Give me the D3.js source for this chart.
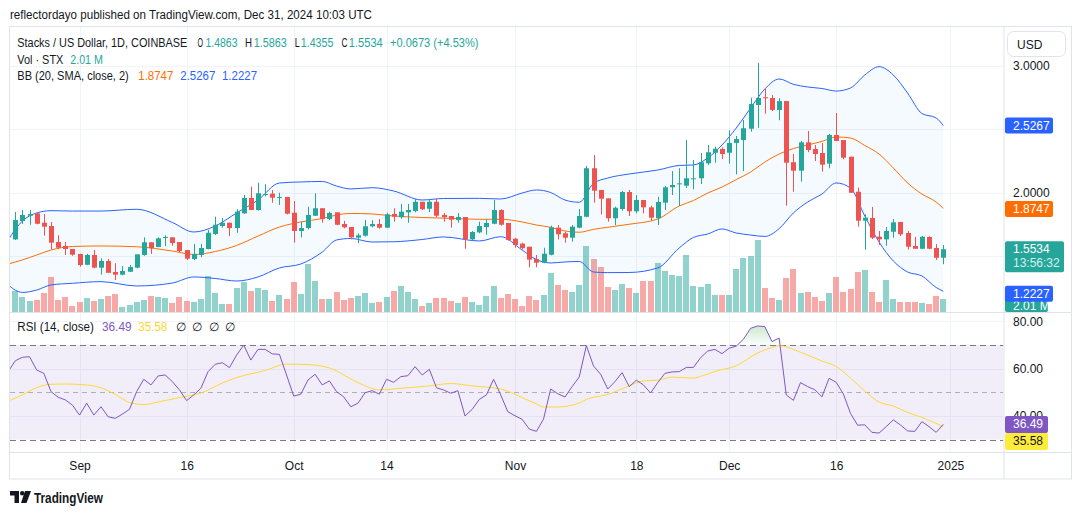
<!DOCTYPE html>
<html><head><meta charset="utf-8">
<script src="https://cdn.jsdelivr.net/npm/d3@7"></script>
<style>
html,body{margin:0;padding:0;background:#fff;}
svg{display:block;font-family:"Liberation Sans",Arial,sans-serif;}
</style></head><body>
<svg id="c" width="1080" height="515"></svg>
<script>
// ---------------- DATA ----------------
const startDate = "2024-08-23"; // first daily candle
const opens = [1.631,1.776,1.817,1.836,1.762,1.736,1.610,1.579,1.555,1.516,
 1.431,1.508,1.408,1.461,1.374,1.353,1.376,1.408,1.508,1.608,
 1.571,1.642,1.647,1.610,1.547,1.476,1.508,1.555,1.673,1.736,
 1.762,1.720,1.836,1.957,1.862,1.980,1.991,1.959,1.965,1.841,
 1.697,1.720,1.817,1.876,1.791,1.844,1.752,1.728,1.644,1.660,
 1.734,1.752,1.723,1.831,1.805,1.844,1.854,1.927,1.872,1.927,
 1.823,1.815,1.783,1.807,1.631,1.686,1.728,1.754,1.862,1.760,
 1.636,1.597,1.573,1.476,1.447,1.510,1.723,1.679,1.644,1.723,
 1.809,2.191,2.020,1.954,1.797,1.870,2.004,1.852,1.941,1.883,
 1.797,1.920,2.041,2.064,2.054,2.106,2.112,2.230,2.313,2.343,
 2.313,2.390,2.413,2.502,2.689,2.750,2.744,2.650,2.720,2.238,
 2.172,2.395,2.343,2.311,2.227,2.453,2.413,2.282,2.006,1.778,
 1.799,1.652,1.631,1.691,1.768,1.681,1.579,1.557,1.650,1.563,
 1.4863];
const highs = [1.846,1.862,1.862,1.840,1.831,1.768,1.663,1.610,1.556,1.517,
 1.517,1.547,1.482,1.476,1.443,1.421,1.429,1.513,1.647,1.608,
 1.647,1.663,1.647,1.610,1.547,1.594,1.594,1.705,1.809,1.799,
 1.762,1.868,1.980,2.046,2.077,2.065,2.020,1.998,1.965,1.933,
 1.770,1.888,1.994,1.876,1.849,1.844,1.776,1.728,1.679,1.783,
 1.781,1.791,1.841,1.876,1.910,1.910,1.949,1.927,1.946,1.949,
 1.839,1.815,1.838,1.807,1.697,1.770,1.789,1.941,1.868,1.760,
 1.644,1.605,1.573,1.508,1.565,1.739,1.744,1.691,1.744,1.870,
 2.209,2.295,2.020,1.954,1.888,2.012,2.020,1.980,1.941,1.896,
 1.967,2.051,2.169,2.191,2.413,2.256,2.311,2.374,2.361,2.356,
 2.490,2.445,2.571,2.746,3.020,2.820,2.768,2.742,2.720,2.303,
 2.406,2.484,2.374,2.390,2.461,2.626,2.413,2.282,2.038,1.828,
 1.886,1.697,1.728,1.791,1.768,1.697,1.650,1.657,1.655,1.594,
 1.5863];
const lows = [1.626,1.752,1.746,1.750,1.660,1.553,1.553,1.508,1.502,1.416,
 1.429,1.403,1.353,1.364,1.311,1.348,1.374,1.403,1.502,1.516,
 1.569,1.579,1.581,1.531,1.469,1.469,1.490,1.553,1.665,1.723,
 1.657,1.683,1.831,1.862,1.857,1.970,1.920,1.902,1.828,1.605,
 1.647,1.710,1.815,1.762,1.783,1.742,1.718,1.631,1.602,1.652,
 1.726,1.715,1.720,1.770,1.794,1.762,1.844,1.862,1.846,1.805,
 1.770,1.723,1.762,1.557,1.620,1.679,1.668,1.750,1.739,1.620,
 1.565,1.553,1.411,1.411,1.443,1.505,1.631,1.605,1.613,1.718,
 1.805,1.920,1.828,1.770,1.744,1.857,1.815,1.836,1.836,1.778,
 1.744,1.862,1.980,1.894,2.035,2.025,2.067,2.217,2.235,2.264,
 2.227,2.143,2.169,2.479,2.510,2.620,2.642,2.569,1.896,2.006,
 2.085,2.317,2.248,2.164,2.191,2.406,2.261,1.998,1.731,1.550,
 1.634,1.587,1.581,1.644,1.657,1.550,1.557,1.555,1.553,1.469,
 1.4355];
const closes = [1.783,1.823,1.830,1.754,1.731,1.605,1.565,1.555,1.510,1.429,
 1.508,1.408,1.461,1.368,1.353,1.382,1.413,1.513,1.608,1.561,
 1.639,1.650,1.602,1.539,1.479,1.516,1.563,1.683,1.746,1.762,
 1.720,1.849,1.957,1.862,1.994,1.988,1.959,1.965,1.833,1.697,
 1.720,1.823,1.876,1.791,1.839,1.746,1.726,1.647,1.663,1.734,
 1.752,1.723,1.828,1.809,1.849,1.862,1.927,1.868,1.927,1.817,
 1.805,1.786,1.807,1.631,1.689,1.736,1.760,1.862,1.746,1.626,
 1.587,1.561,1.471,1.447,1.518,1.726,1.671,1.644,1.731,1.815,
 2.191,2.014,1.951,1.797,1.880,2.004,1.852,1.941,1.883,1.802,
 1.925,2.041,2.059,2.072,2.112,2.112,2.238,2.317,2.345,2.303,
 2.390,2.421,2.506,2.697,2.744,2.742,2.650,2.720,2.235,2.172,
 2.395,2.335,2.303,2.219,2.453,2.406,2.274,1.998,1.778,1.802,
 1.644,1.631,1.697,1.765,1.671,1.573,1.557,1.652,1.557,1.4861,
 1.5534];
// volume, millions of STX
const volumes = [3.30,2.33,1.71,1.86,2.95,5.43,1.86,2.33,0.93,1.55,
 2.17,1.71,2.02,2.48,2.79,0.78,1.09,1.55,1.86,2.48,
 2.33,2.17,1.40,2.33,1.71,1.55,2.02,5.58,2.95,1.24,
 1.24,3.72,4.65,3.26,3.72,3.41,1.71,2.64,2.02,4.65,
 2.79,7.44,4.81,2.02,2.02,3.10,1.86,2.17,2.48,2.95,
 1.40,1.55,2.33,3.26,4.03,3.10,2.02,0.93,1.40,2.17,
 2.17,1.71,1.40,2.33,1.55,1.09,2.48,4.03,2.17,2.79,
 2.02,0.93,2.48,1.86,2.64,6.05,4.19,3.41,3.10,4.19,
 10.23,8.22,6.98,3.88,3.41,4.34,3.72,2.95,4.81,4.81,
 7.60,6.36,5.74,5.58,8.84,4.03,3.88,4.34,2.64,2.64,
 2.64,6.67,8.37,8.68,11.16,3.72,2.17,1.86,5.27,6.67,
 2.95,3.10,2.33,1.71,2.95,5.43,3.10,3.57,6.20,6.51,
 3.10,1.55,4.96,2.02,1.55,1.55,1.55,1.40,1.24,2.48,
 2.01];
// Bollinger Bands (20, 2), read at these day offsets from startDate
const bandDays = [-1,1,3,5,8,12,17,22,25,28,31,34,37,40,43,45,47,50,53,57,60,65,68,71,73,75,77,79,81,83,86,90,93,95,97,99,101,103,105,107,109,111,113,115,117,119,121,123,125,127,129,130];
const bbUpper = [1.626,1.776,1.839,1.857,1.854,1.854,1.868,1.764,1.689,1.736,
 1.839,1.941,2.075,2.083,2.087,2.051,2.028,2.038,2.012,1.941,
 1.953,1.954,1.949,1.996,2.020,2.000,1.941,1.923,2.072,2.114,
 2.146,2.177,2.213,2.217,2.272,2.374,2.508,2.665,2.815,2.894,
 2.852,2.831,2.819,2.799,2.823,2.925,2.991,2.925,2.783,2.622,
 2.587,2.5267];
const bbBasis = [1.437,1.469,1.508,1.547,1.575,1.579,1.573,1.539,1.512,1.535,
 1.583,1.657,1.728,1.768,1.795,1.823,1.835,1.831,1.815,1.803,
 1.798,1.789,1.789,1.768,1.744,1.726,1.697,1.687,1.710,1.726,
 1.750,1.791,1.894,1.937,1.996,2.043,2.102,2.161,2.240,2.303,
 2.346,2.374,2.402,2.437,2.429,2.370,2.303,2.193,2.075,1.988,
 1.925,1.8747];
const bbLower = [1.272,1.213,1.232,1.272,1.285,1.298,1.264,1.287,1.335,1.323,
 1.303,1.335,1.406,1.437,1.531,1.626,1.638,1.610,1.612,1.630,
 1.650,1.618,1.652,1.547,1.472,1.445,1.453,1.457,1.374,1.369,
 1.370,1.406,1.563,1.646,1.673,1.713,1.681,1.665,1.654,1.715,
 1.839,1.925,1.988,2.075,2.035,1.815,1.610,1.461,1.374,1.343,
 1.252,1.2227];
// RSI(14), one value per day starting at day offset -1
const rsiStart = -1;
const rsiValues = [58.7,63.3,64.8,65.0,59.4,58.0,50.3,47.9,46.8,44.6,40.4,
 45.4,40.4,43.9,39.7,39.0,40.8,42.8,50.3,55.5,53.1,
 56.9,57.3,54.5,51.0,46.5,48.9,51.7,58.7,61.8,62.5,
 60.4,65.7,69.9,63.6,68.1,68.1,66.2,66.0,57.3,48.4,
 49.2,55.2,57.6,53.1,54.8,50.3,48.1,43.9,45.4,49.8,
 50.7,49.2,55.5,54.2,56.6,57.0,60.8,57.3,59.7,51.9,
 51.0,49.6,50.7,40.0,42.8,47.0,48.9,55.5,48.9,41.8,
 40.1,38.6,34.5,33.5,38.7,51.4,49.4,48.0,52.4,56.5,
 69.7,61.1,57.6,51.4,54.5,58.3,52.4,55.1,53.1,49.7,
 54.1,58.0,58.6,58.7,60.5,60.5,64.6,67.4,68.1,66.3,
 68.6,69.5,72.4,77.0,78.0,77.7,71.4,72.9,48.9,46.6,
 54.1,52.4,51.1,48.1,55.9,54.2,49.3,41.1,36.1,36.3,
 33.1,32.8,35.5,38.4,36.2,33.7,33.5,37.6,35.5,33.1,
 36.49];
// RSI-based moving average, read at these day offsets
const rsiMaDays = [-1,1,3,5,7,10,12,14,16,18,20,23,26,29,31,35,38,41,44,48,51,54,58,61,64,68,71,73,74,76,79,80,83,86,88,90,92,95,96,98,101,104,106,107,110,113,115,117,119,121,123,125,127,130];
const rsiMa = [46.3,48.9,52.0,53.4,53.5,53.1,51.9,49.1,45.7,44.8,
 45.9,47.8,49.7,53.9,56.2,59.2,61.9,61.7,60.3,54.1,
 51.0,51.7,52.7,53.7,52.7,51.4,47.8,45.1,43.8,43.8,
 45.5,47.0,49.1,52.7,54.8,55.1,56.4,56.0,56.7,58.8,
 61.2,66.6,68.9,69.7,66.9,63.2,60.9,56.0,50.5,45.9,
 44.2,41.5,39.4,35.58];
const tickDates = ["2024-09-01","2024-09-16","2024-10-01","2024-10-14","2024-11-01","2024-11-18","2024-12-01","2024-12-16","2025-01-01"];
const tickLabels = ["Sep","16","Oct","14","Nov","18","Dec","16","2025"];
const priceLabelTicks = [3.0, 2.0];
const priceGridTicks = [1.5, 2.0, 2.5, 3.0];
const rsiLabelTicks = [80, 60, 40];
const rsiGridTicks = [80, 60, 40];
const rsiLevels = [70, 50, 30];
const lastVolumeLabel = "2.01 M";
const countdown = "13:56:32";

// ---------------- LAYOUT ----------------
const C = {up:"#26a69a", down:"#ef5350", text:"#131722", grid:"#f0f3fa", border:"#e0e3eb",
  blue:"#2962ff", orange:"#ff6d00", purple:"#7e57c2", yellow:"#fdd835"};
const paneL = 10, paneR = 1003.5, priceTop = 27, priceBot = 312, rsiTop = 313, rsiBot = 452, frameBot = 479;
const svg = d3.select("#c");
const start = new Date(startDate + "T00:00:00Z");
const dayAt = k => d3.utcDay.offset(start, k);
const n = closes.length;

const x = d3.scaleUtc().domain([dayAt(0), dayAt(n - 1)]).range([15.3, 943.3]);
const y = d3.scaleLinear().domain([1, 3]).range([319.5, 65.5]);
const yv = d3.scaleLinear().domain([0, 11.16]).range([priceBot, 240]);
const yr = d3.scaleLinear().domain([30, 70]).range([439.7, 344.9]);

const defs = svg.append("defs");
defs.append("clipPath").attr("id","pclip").append("rect")
  .attr("x",paneL).attr("y",priceTop).attr("width",paneR-paneL).attr("height",priceBot-priceTop);
defs.append("clipPath").attr("id","rclip").append("rect")
  .attr("x",paneL).attr("y",rsiTop).attr("width",paneR-paneL).attr("height",rsiBot-rsiTop);
const grad = defs.append("linearGradient").attr("id","obg").attr("x1",0).attr("x2",0)
  .attr("gradientUnits","userSpaceOnUse").attr("y1", yr(80)).attr("y2", yr(70));
grad.append("stop").attr("offset",0).attr("stop-color","rgba(76,175,80,0.35)");
grad.append("stop").attr("offset",1).attr("stop-color","rgba(76,175,80,0.02)");

// header
svg.append("text").attr("x",10).attr("y",18.5).attr("font-size",12.5).attr("fill",C.text)
  .attr("textLength",362).attr("lengthAdjust","spacingAndGlyphs")
  .text("reflectordayo published on TradingView.com, Dec 31, 2024 10:03 UTC");

// grids
const gGrid = svg.append("g");
tickDates.forEach(d => {
  const xx = Math.round(x(new Date(d + "T00:00:00Z"))) + 0.5;
  gGrid.append("line").attr("x1",xx).attr("x2",xx).attr("y1",priceTop).attr("y2",priceBot).attr("stroke",C.grid);
  gGrid.append("line").attr("x1",xx).attr("x2",xx).attr("y1",rsiTop).attr("y2",rsiBot).attr("stroke",C.grid);
});
priceGridTicks.forEach(p => {
  const yy = Math.round(y(p)) + 0.5;
  gGrid.append("line").attr("x1",paneL).attr("x2",paneR).attr("y1",yy).attr("y2",yy).attr("stroke",C.grid);
});
rsiGridTicks.forEach(r => {
  const yy = Math.round(yr(r)) + 0.5;
  gGrid.append("line").attr("x1",paneL).attr("x2",paneR).attr("y1",yy).attr("y2",yy).attr("stroke",C.grid);
});

// ---- price pane ----
const gp = svg.append("g").attr("clip-path","url(#pclip)");
const idx = d3.range(n);
// volume
gp.selectAll("rect.vol").data(idx).join("rect").attr("class","vol")
  .attr("x", i => Math.round(x(dayAt(i))) - 3).attr("width", 6)
  .attr("y", i => yv(volumes[i])).attr("height", i => priceBot - yv(volumes[i]))
  .attr("fill", i => closes[i] >= opens[i] ? "rgba(38,166,154,0.5)" : "rgba(239,83,80,0.5)");
// bands
const bandPts = bandDays.map((d, k) => ({d, u: bbUpper[k], m: bbBasis[k], l: bbLower[k]}));
const curve = d3.curveMonotoneX;
gp.append("path").datum(bandPts).attr("fill","rgba(33,150,243,0.05)")
  .attr("d", d3.area().curve(curve).x(p => x(dayAt(p.d))).y0(p => y(p.l)).y1(p => y(p.u)));
const lineOf = key => d3.line().curve(curve).x(p => x(dayAt(p.d))).y(p => y(p[key]));
gp.append("path").datum(bandPts).attr("fill","none").attr("stroke",C.orange).attr("stroke-width",1).attr("d", lineOf("m"));
gp.append("path").datum(bandPts).attr("fill","none").attr("stroke",C.blue).attr("stroke-width",1).attr("d", lineOf("u"));
gp.append("path").datum(bandPts).attr("fill","none").attr("stroke",C.blue).attr("stroke-width",1).attr("d", lineOf("l"));
// candles
const gc = gp.append("g");
idx.forEach(i => {
  const cx = Math.round(x(dayAt(i)));
  const col = closes[i] >= opens[i] ? C.up : C.down;
  gc.append("line").attr("x1",cx+0.5).attr("x2",cx+0.5).attr("y1",y(highs[i])).attr("y2",y(lows[i])).attr("stroke",col);
  const top = y(Math.max(opens[i], closes[i])), bot = y(Math.min(opens[i], closes[i]));
  gc.append("rect").attr("x",cx-2).attr("width",5).attr("y",top).attr("height",Math.max(1,bot-top)).attr("fill",col);
});

// ---- RSI pane ----
const gr = svg.append("g").attr("clip-path","url(#rclip)");
gr.append("rect").attr("x",paneL).attr("width",paneR-paneL).attr("y",yr(70)).attr("height",yr(30)-yr(70))
  .attr("fill","rgba(126,87,194,0.1)");
rsiLevels.forEach(l => {
  const yy = Math.round(yr(l)) + 0.5;
  gr.append("line").attr("x1",paneL).attr("x2",paneR).attr("y1",yy).attr("y2",yy)
    .attr("stroke", l === 50 ? "rgba(120,123,134,0.55)" : "#787b86").attr("stroke-dasharray", l === 50 ? "5,4" : "6,4");
});
const rsiPts = rsiValues.map((v, k) => ({d: k + rsiStart, v}));
gr.append("path").datum(rsiPts).attr("fill","url(#obg)")
  .attr("d", d3.area().x(p => x(dayAt(p.d))).y0(yr(70)).y1(p => yr(Math.max(70, p.v))));
const maPts = rsiMaDays.map((d, k) => ({d, v: rsiMa[k]}));
gr.append("path").datum(maPts).attr("fill","none").attr("stroke",C.yellow).attr("stroke-width",1)
  .attr("d", d3.line().curve(curve).x(p => x(dayAt(p.d))).y(p => yr(p.v)));
gr.append("path").datum(rsiPts).attr("fill","none").attr("stroke",C.purple).attr("stroke-width",1)
  .attr("d", d3.line().x(p => x(dayAt(p.d))).y(p => yr(p.v)));

// ---- frame ----
const fr = svg.append("g").attr("fill","none").attr("stroke",C.border);
fr.append("rect").attr("x",9.5).attr("y",26.5).attr("width",1062).attr("height",frameBot-26.5);
fr.append("line").attr("x1",paneR+0.5).attr("x2",paneR+0.5).attr("y1",26.5).attr("y2",frameBot);
fr.append("line").attr("x1",9.5).attr("x2",1071.5).attr("y1",priceBot+0.5).attr("y2",priceBot+0.5);
fr.append("line").attr("x1",9.5).attr("x2",1071.5).attr("y1",rsiBot+0.5).attr("y2",rsiBot+0.5);

// ---- time axis ----
const tAxis = d3.axisBottom(x).tickValues(tickDates.map(d => new Date(d + "T00:00:00Z")))
  .tickFormat((d, k) => tickLabels[k]).tickSize(0).tickPadding(0);
const ta = svg.append("g").attr("transform",`translate(0,${rsiBot})`).call(tAxis);
ta.select(".domain").remove();
ta.selectAll("text").attr("font-size",12).attr("fill",C.text).attr("font-family","Liberation Sans, Arial, sans-serif")
  .attr("dy",0).attr("y",18);

// ---- price axis ----
const pAxis = d3.axisRight(y).tickValues(priceLabelTicks).tickFormat(d3.format(".4f")).tickSize(0).tickPadding(0);
const pa = svg.append("g").attr("transform",`translate(1013,0)`).call(pAxis);
pa.select(".domain").remove();
pa.selectAll("text").attr("font-size",12).attr("fill",C.text).attr("font-family","Liberation Sans, Arial, sans-serif").attr("text-anchor","start");
const rAxis = d3.axisRight(yr).tickValues(rsiLabelTicks).tickFormat(d3.format(".2f")).tickSize(0).tickPadding(0);
const ra = svg.append("g").attr("transform",`translate(1013,0)`).call(rAxis);
ra.select(".domain").remove();
ra.selectAll("text").attr("font-size",12).attr("fill",C.text).attr("font-family","Liberation Sans, Arial, sans-serif").attr("text-anchor","start");

// USD box
svg.append("rect").attr("x",1007.5).attr("y",31.5).attr("width",58).attr("height",25).attr("rx",6)
  .attr("fill","#fff").attr("stroke",C.border);
svg.append("text").attr("x",1017).attr("y",48.5).attr("font-size",12).attr("fill",C.text).text("USD");

// badges
defs.append("clipPath").attr("id","bclip").append("rect").attr("x",1004).attr("y",0).attr("width",76).attr("height",priceBot);
function badge(yc, h, w, fill, txtColor, lines, clipBottom) {
  const g = svg.append("g");
  const top = yc - h / 2;
  const hh = clipBottom ? Math.min(h, clipBottom - top) : h;
  g.append("rect").attr("x",1005).attr("y",top).attr("width",w).attr("height",hh).attr("rx",2).attr("fill",fill);
  lines.forEach((t, k) => {
    const tt = g.append("text").attr("x",1013).attr("y", top + 12 + k * 14).attr("font-size",12).attr("fill", t.c || txtColor).text(t.s);
    if (clipBottom) tt.attr("clip-path","url(#bclip)");
  });
}
const fmt4 = d3.format(".4f");
badge(y(bbUpper[bbUpper.length-1]), 16, 48, C.blue, "#fff", [{s: fmt4(bbUpper[bbUpper.length-1])}]);
badge(y(bbBasis[bbBasis.length-1]) + 0.5, 16, 48, C.orange, "#fff", [{s: fmt4(bbBasis[bbBasis.length-1])}]);
badge(y(closes[n-1]) + 7.5, 31, 59, C.up, "#fff", [{s: fmt4(closes[n-1])}, {s: countdown, c:"#d7f0ed"}]);
badge(yv(volumes[n-1]) + 6.5, 16, 43, C.up, "#fff", [{s: lastVolumeLabel}], priceBot);
badge(y(bbLower[bbLower.length-1]) + 2.5, 16, 48, C.blue, "#fff", [{s: fmt4(bbLower[bbLower.length-1])}]);
badge(424.5, 17, 43, C.purple, "#fff", [{s: rsiValues[rsiValues.length-1].toFixed(2)}]);
badge(441.5, 17, 43, "#ffeb3b", C.text, [{s: rsiMa[rsiMa.length-1].toFixed(2)}]);

// ---- legends ----
function seg(xx, yy, w, s, col, fs) {
  svg.append("text").attr("x",xx).attr("y",yy).attr("font-size",fs||12).attr("fill",col)
    .attr("textLength",w).attr("lengthAdjust","spacingAndGlyphs").text(s);
}
const o = opens[n-1], h = highs[n-1], l = lows[n-1], c = closes[n-1], pc = closes[n-2];
const diff = c - pc, pct = diff / pc * 100;
seg(17.3, 46.8, 170, "Stacks / US Dollar, 1D, COINBASE", C.text);
seg(197.5, 46.8, 5.5, "O", C.text);
seg(205.5, 46.8, 32, fmt4(o), C.up);
seg(245, 46.8, 7, "H", C.text);
seg(253.8, 46.8, 33, fmt4(h), C.up);
seg(294.8, 46.8, 5, "L", C.text);
seg(300.8, 46.8, 32.5, fmt4(l), C.up);
seg(341.5, 46.8, 6, "C", C.text);
seg(348.8, 46.8, 34, fmt4(c), C.up);
seg(390, 46.8, 88.5, `+${diff.toFixed(4)} (+${pct.toFixed(2)}%)`, C.up);
seg(17.3, 63.8, 46, "Vol · STX", C.text);
seg(70.3, 63.8, 32.5, lastVolumeLabel, C.up);
seg(17.3, 80.2, 111.5, "BB (20, SMA, close, 2)", C.text);
seg(138.3, 80.2, 35, fmt4(bbBasis[bbBasis.length-1]), C.orange);
seg(180.3, 80.2, 35, fmt4(bbUpper[bbUpper.length-1]), C.blue);
seg(222, 80.2, 35, fmt4(bbLower[bbLower.length-1]), C.blue);
seg(17.3, 330.5, 76.5, "RSI (14, close)", C.text);
seg(102, 330.5, 29.5, rsiValues[rsiValues.length-1].toFixed(2), C.purple);
seg(138.3, 330.5, 29, rsiMa[rsiMa.length-1].toFixed(2), C.yellow);
[175.5, 192, 208.5, 225].forEach(xx => svg.append("text").attr("x",xx).attr("y",330.5).attr("font-size",12).attr("fill",C.text).text("∅"));

// ---- logo ----
const lg = svg.append("g").attr("fill",C.text);
lg.append("path").attr("d","M10,491 H19 V503 H14.5 V495.5 H10 Z");
lg.append("circle").attr("cx",22.2).attr("cy",493.2).attr("r",2.2);
lg.append("path").attr("d","M25,491 H31 L26.5,503 H21 Z");
svg.append("text").attr("x",34).attr("y",502.5).attr("font-size",14).attr("font-weight","bold").attr("fill",C.text)
  .attr("textLength",69).attr("lengthAdjust","spacingAndGlyphs").text("TradingView");
</script>
</body></html>
